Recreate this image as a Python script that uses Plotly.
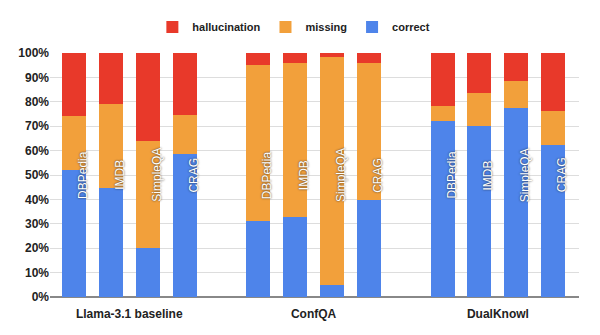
import plotly.graph_objects as go

groups = ["Llama-3.1 baseline", "ConfQA", "DualKnowl"]
datasets = ["DBPedia", "IMDB", "SimpleQA", "CRAG"]

correct = [52.0, 44.8, 19.9, 58.6,
           31.2, 32.6, 5.1, 39.6,
           72.3, 70.1, 77.3, 62.4]
missing = [22.0, 34.2, 44.2, 15.8,
           63.9, 63.1, 93.1, 56.1,
           5.8, 13.7, 11.4, 14.0]
hallucination = [26.0, 21.0, 35.9, 25.6,
                 4.9, 4.3, 1.8, 4.3,
                 21.9, 16.2, 11.3, 23.6]

y_ticks = [0, 10, 20, 30, 40, 50, 60, 70, 80, 90, 100]

# positions: 4 bars per group, one empty slot between groups
xpos = []
labels = []
for gi, g in enumerate(groups):
    for di, d in enumerate(datasets):
        xpos.append(gi * 5 + di)
        labels.append(d)
group_centers = [gi * 5 + 1.5 for gi in range(len(groups))]

RED = "#e8392a"
ORANGE = "#f2a03b"
BLUE = "#4e84ea"

fig = go.Figure()
fig.add_trace(go.Bar(x=xpos, y=correct, name="correct", marker_color=BLUE,
                     width=0.65, marker_line_width=0))
fig.add_trace(go.Bar(x=xpos, y=missing, name="missing", marker_color=ORANGE,
                     width=0.65, marker_line_width=0))
fig.add_trace(go.Bar(x=xpos, y=hallucination, name="hallucination", marker_color=RED,
                     width=0.65, marker_line_width=0))

for x, lab in zip(xpos, labels):
    fig.add_annotation(x=x, y=50, text=lab, textangle=-90, showarrow=False,
                       xshift=9, xanchor="center", yanchor="middle",
                       font=dict(family="Liberation Sans, Arial", size=12, color="white",
                                 shadow="0px 0px 2px #222"))

fig.update_layout(
    width=600, height=335,
    barmode="stack",
    bargap=0,
    plot_bgcolor="white", paper_bgcolor="white",
    margin=dict(l=50, r=21, t=53, b=38),
    font=dict(family="Liberation Sans, Arial", size=12, color="#222"),
    legend=dict(orientation="h", x=0.461, xanchor="center", y=1.107, yanchor="middle",
                traceorder="reversed",
                font=dict(size=11, weight="bold", color="#222"),
                itemwidth=30),
    xaxis=dict(range=[-0.65, 13.7], tickvals=group_centers, ticktext=groups,
               showgrid=False, zeroline=False, showline=False, ticks="",
               ticklabelstandoff=8,
               tickfont=dict(size=12, weight="bold", color="#222")),
    yaxis=dict(range=[0, 100], tickvals=y_ticks,
               ticktext=[f"{v}%" for v in y_ticks],
               showgrid=True, gridcolor="#dddddd", gridwidth=1,
               zeroline=True, zerolinecolor="#888", zerolinewidth=1.5,
               tickfont=dict(size=12, weight="bold", color="#222"),
               ticks="", ticklen=0),
)

fig.write_html("out.html")
